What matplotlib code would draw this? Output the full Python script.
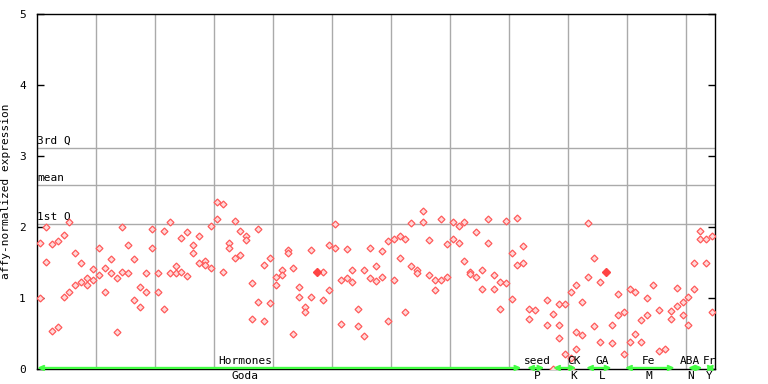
import matplotlib
matplotlib.use("Agg")
import matplotlib.pyplot as plt

# sample position (0-based order along x) and expression value of each replicate
sample_idx = [0, 0, 1, 1, 2, 2, 3, 3, 4, 4, 5, 5, 6, 6, 7, 7, 8, 8, 9, 9,
              10, 10, 11, 11, 12, 12, 13, 13, 14, 14, 15, 15, 16, 16, 17, 17, 18, 18, 19, 19,
              20, 20, 21, 21, 22, 22, 23, 23, 24, 24, 25, 25, 26, 26, 27, 27, 28, 28, 29, 29,
              30, 30, 31, 31, 32, 32, 33, 33, 34, 34, 35, 35, 36, 36, 37, 37, 38, 38, 39, 39,
              40, 40, 41, 41, 42, 42, 43, 43, 44, 44, 45, 45, 46, 46, 48, 48, 49, 49,
              50, 50, 51, 51, 52, 52, 53, 53, 54, 54, 55, 55, 56, 56, 57, 57, 58, 58, 59, 59,
              60, 60, 61, 61, 62, 62, 63, 63, 64, 64, 65, 65, 66, 66, 67, 67, 68, 68, 69, 69,
              70, 70, 71, 71, 72, 72, 73, 73, 74, 74, 75, 75, 76, 76, 77, 77, 78, 78, 79, 79,
              80, 80, 81, 81, 82, 82, 83, 83, 84, 86, 86, 87, 87, 88, 88, 88, 89, 89,
              90, 90, 90, 91, 91, 91, 92, 92, 93, 93, 94, 94, 95, 95, 97, 97, 98, 98, 99, 99,
              100, 100, 101, 101, 102, 102, 103, 103, 104, 105, 105, 106, 107, 107, 108, 108,
              109, 109, 110, 110, 111, 111, 112, 112, 113, 113, 114, 114]
expression = [1.78, 1.00, 2.00, 1.51, 1.76, 0.53, 1.80, 0.59, 1.89, 1.01, 2.07, 1.08, 1.64, 1.18,
              1.49, 1.22, 1.28, 1.19, 1.41, 1.26,
              1.70, 1.33, 1.42, 1.09, 1.55, 1.35, 1.28, 0.52, 2.00, 1.36, 1.74, 1.35, 1.55, 0.97,
              1.15, 0.88, 1.35, 1.08, 1.97, 1.71,
              1.35, 1.08, 1.94, 0.85, 2.07, 1.35, 1.45, 1.35, 1.85, 1.36, 1.93, 1.31, 1.74, 1.63,
              1.87, 1.50, 1.52, 1.46, 2.01, 1.42,
              2.35, 2.11, 2.32, 1.36, 1.77, 1.71, 2.09, 1.57, 1.94, 1.61, 1.88, 1.81, 1.21, 0.70,
              1.97, 0.95, 1.46, 0.67, 1.57, 0.93,
              1.29, 1.18, 1.40, 1.33, 1.67, 1.64, 1.42, 0.49, 1.15, 1.02, 0.87, 0.80, 1.67, 1.02,
              1.36, 0.97, 1.74, 1.11,
              2.04, 1.71, 1.25, 0.64, 1.69, 1.28, 1.40, 1.22, 0.84, 0.60, 1.40, 0.47, 1.71, 1.28,
              1.45, 1.24, 1.66, 1.29, 1.80, 0.67,
              1.83, 1.26, 1.87, 1.57, 1.83, 0.80, 2.05, 1.45, 1.40, 1.35, 2.22, 2.07, 1.81, 1.33,
              1.26, 1.11, 2.11, 1.25, 1.76, 1.29,
              2.07, 1.83, 2.02, 1.78, 2.07, 1.52, 1.36, 1.34, 1.93, 1.29, 1.39, 1.12, 2.11, 1.77,
              1.33, 1.12, 1.22, 0.84, 2.09, 1.21,
              1.63, 0.98, 2.12, 1.46, 1.73, 1.49, 0.85, 0.70, 0.83, 0.97, 0.62, 0.78, 0.00,
              0.91, 0.62, 0.43, 0.91, 0.21,
              1.08, 0.15, 0.00, 1.18, 0.52, 0.28, 0.95, 0.48, 2.05, 1.29, 1.57, 0.60, 1.22, 0.38,
              0.62, 0.37, 1.05, 0.76, 0.80, 0.21,
              1.12, 0.38, 1.08, 0.49, 0.69, 0.38, 1.00, 0.76, 1.19, 0.83, 0.25, 0.28, 0.82, 0.70,
              1.14, 0.89,
              0.95, 0.76, 1.01, 0.62, 1.50, 1.12, 1.94, 1.83, 1.83, 1.50, 1.87, 0.80]

# samples drawn as solid markers
highlight_idx = [47, 96]
highlight_val = [1.36, 1.36]

# summary lines
stat_names = ["3rd Q", "mean", "1st Q"]
stat_values = [3.11, 2.59, 2.04]

# groups along the bottom
group_names = ["Hormones", "seed", "CK", "GA", "Fe", "ABA", "Fr"]
group_codes = ["Goda", "P", "K", "L", "M", "N", "Y"]
group_start = [-0.5, 82.6, 87.0, 92.6, 99.2, 109.9, 112.9]
group_end = [81.7, 85.6, 91.0, 97.0, 107.7, 112.4, 114.5]
group_label_x = [34.8, 84.4, 90.5, 95.3, 103.3, 110.3, 113.5]

mono = "DejaVu Sans Mono"
fs = 8
grid_col = "#aaaaaa"
green = "#44ff44"

fig = plt.figure(figsize=(7.68, 3.84), dpi=100)
ax = fig.add_axes([37 / 768, 15 / 384, 678 / 768, 355 / 384])

ax.set_xlim(-0.5, 114.5)
ax.set_ylim(0, 5)

# vertical grid every 10 samples
for gx in range(0, 11):
    ax.axvline(9.5 + 10 * gx, color=grid_col, lw=1, zorder=1)

for name, val in zip(stat_names, stat_values):
    ax.axhline(val, color=grid_col, lw=1, zorder=1)
    ax.text(-0.5, val + 0.03, name, fontsize=fs, family=mono, ha="left", va="bottom")

ax.plot(sample_idx, expression, linestyle="none", marker="D", ms=3.5,
        mfc="#ffdada", mec="#ff5a5a", mew=0.9, zorder=3)
ax.plot(highlight_idx, highlight_val, linestyle="none", marker="D", ms=4,
        color="#ff4444", zorder=4)

# group spans
for s, e in zip(group_start, group_end):
    ax.annotate("", xy=(e, 0.015), xytext=(s, 0.015),
                arrowprops=dict(arrowstyle="<->,head_length=0.4,head_width=0.18",
                                color=green, lw=1.6, mutation_scale=8,
                                shrinkA=0, shrinkB=0),
                annotation_clip=False, zorder=5)
for name, code, gx in zip(group_names, group_codes, group_label_x):
    ax.text(gx, 0.04, name, fontsize=fs, family=mono, ha="center", va="bottom")
    ax.text(gx, -0.03, code, fontsize=fs, family=mono, ha="center", va="top")

ax.set_xticks([])
ax.set_yticks([0, 1, 2, 3, 4, 5])
ax.tick_params(axis="y", direction="in", length=5, width=1, right=True,
               labelsize=fs, pad=8)
for lab in ax.get_yticklabels():
    lab.set_family(mono)
ax.set_ylabel("affy-normalized expression", fontsize=fs, family=mono)
ax.yaxis.set_label_coords(-0.039, 0.5)

for sp in ax.spines.values():
    sp.set_linewidth(1)
    sp.set_color("black")

fig.savefig("out.png", dpi=100)
